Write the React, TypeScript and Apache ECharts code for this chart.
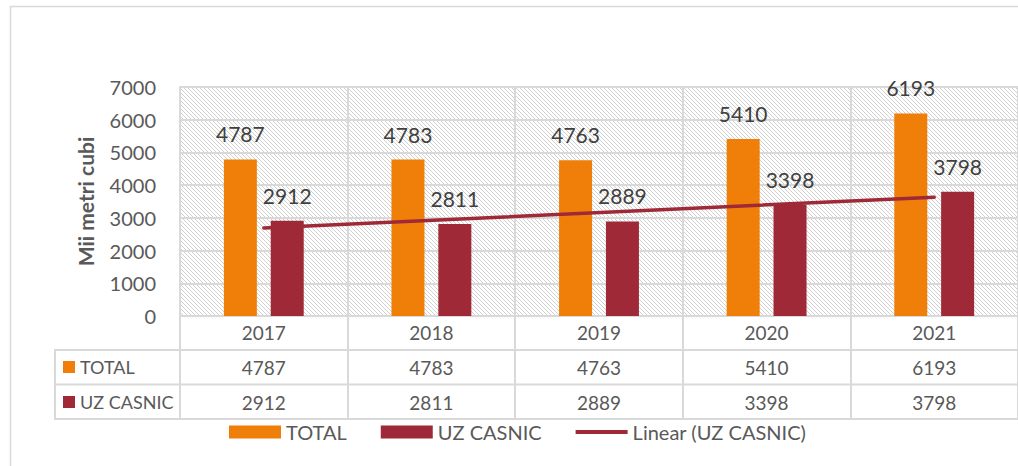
import React, { useEffect, useRef } from "react";
import * as echarts from "echarts";

const years = ["2017", "2018", "2019", "2020", "2021"];
const totalValues = [4787, 4783, 4763, 5410, 6193];
const uzCasnicValues = [2912, 2811, 2889, 3398, 3798];
// Excel linear trendline of UZ CASNIC, read at first and last category
const trendEnds = [2690, 3633];
const yMin = 0;
const yMax = 7000;
const yStep = 1000;

const ORANGE = "#F07F09";
const RED = "#9F2936";
const GRID_LINE = "#d9d9d9";
const TEXT = "#595959";
const FONT = "Lato, 'Open Sans', sans-serif";

const hatch =
  "data:image/svg+xml;utf8," +
  encodeURIComponent(
    "<svg xmlns='http://www.w3.org/2000/svg' width='4' height='4'><path d='M0,0 L4,4 M-1,3 L1,5 M3,-1 L5,1' stroke='#d0d0d0' stroke-width='1'/></svg>"
  );

export default function App() {
  const ref = useRef<HTMLDivElement>(null);
  useEffect(() => {
    if (!ref.current) return;
    const chart = echarts.init(ref.current, null, { renderer: "svg" });
    const trendData = years.map((_, i) =>
      i === 0 ? trendEnds[0] : i === years.length - 1 ? trendEnds[1] : null
    );
    const valueAxisCommon = {
      type: "category",
      gridIndex: 0,
      position: "bottom",
      axisLine: { show: false },
      axisTick: { show: false },
      splitLine: { show: false },
      axisLabel: { fontSize: 19, color: TEXT, fontFamily: FONT, margin: 7 },
    };
    chart.setOption({
      animation: false,
      textStyle: { fontFamily: FONT },
      grid: {
        left: 180,
        top: 87,
        width: 842,
        height: 229,
        show: true,
        borderWidth: 0,
        backgroundColor: {
          image: hatch,
          repeat: "repeat",
          imageWidth: 4,
          imageHeight: 4,
        },
      },
      legend: {
        left: 229,
        top: 422,
        padding: 0,
        itemWidth: 52,
        itemHeight: 13,
        itemGap: 34,
        textStyle: { fontSize: 20, color: TEXT, fontFamily: FONT },
        data: [
          { name: "TOTAL", icon: "rect" },
          { name: "UZ CASNIC", icon: "rect" },
          { name: "Linear (UZ CASNIC)", icon: "path://M0,0 L55,0 L55,4 L0,4 Z" },
        ],
      },
      xAxis: [
        {
          type: "category",
          data: years,
          position: "bottom",
          axisLine: { show: true, lineStyle: { color: GRID_LINE, width: 2 } },
          axisTick: {
            show: true,
            interval: 0,
            length: 103,
            lineStyle: { color: GRID_LINE, width: 2 },
          },
          splitLine: { show: true, interval: 0, lineStyle: { color: GRID_LINE, width: 2 } },
          axisLabel: { fontSize: 19, color: TEXT, fontFamily: FONT, margin: 7 },
        },
        { ...valueAxisCommon, offset: 35, data: totalValues.map(String) },
        { ...valueAxisCommon, offset: 70, data: uzCasnicValues.map(String) },
      ],
      yAxis: {
        type: "value",
        min: yMin,
        max: yMax,
        interval: yStep,
        name: "Mii metri cubi",
        nameLocation: "middle",
        nameRotate: 90,
        nameGap: 84,
        nameTextStyle: { fontSize: 21, fontWeight: "bold", color: TEXT, fontFamily: FONT },
        axisLine: { show: true, lineStyle: { color: GRID_LINE, width: 2 } },
        axisTick: { show: false },
        splitLine: { show: true, lineStyle: { color: GRID_LINE, width: 2 } },
        axisLabel: {
          fontSize: 20,
          color: TEXT,
          fontFamily: FONT,
          margin: 24,
          formatter: (v: number) => String(v),
        },
      },
      series: [
        {
          name: "TOTAL",
          type: "bar",
          data: totalValues,
          barWidth: 33,
          barGap: "42%",
          itemStyle: { color: ORANGE },
          label: {
            show: true,
            position: "top",
            distance: 15,
            fontSize: 21,
            color: "#404040",
            fontFamily: FONT,
          },
        },
        {
          name: "UZ CASNIC",
          type: "bar",
          data: uzCasnicValues,
          barWidth: 33,
          itemStyle: { color: RED },
          label: {
            show: true,
            position: "top",
            distance: 15,
            fontSize: 21,
            color: "#404040",
            fontFamily: FONT,
          },
        },
        {
          name: "Linear (UZ CASNIC)",
          type: "line",
          data: trendData,
          connectNulls: true,
          symbol: "none",
          z: 5,
          itemStyle: { color: RED },
          lineStyle: { color: RED, width: 3.5, cap: "round" },
        },
      ],
      graphic: [
        {
          type: "rect",
          shape: { x: 10.5, y: 6.5, width: 1100, height: 500 },
          style: { fill: "none", stroke: GRID_LINE, lineWidth: 1.5 },
          silent: true,
        },
        {
          type: "line",
          shape: { x1: 55, y1: 350, x2: 1022, y2: 350 },
          style: { stroke: GRID_LINE, lineWidth: 2 },
        },
        {
          type: "line",
          shape: { x1: 55, y1: 384.5, x2: 1022, y2: 384.5 },
          style: { stroke: GRID_LINE, lineWidth: 2 },
        },
        {
          type: "line",
          shape: { x1: 55, y1: 419, x2: 1022, y2: 419 },
          style: { stroke: GRID_LINE, lineWidth: 2 },
        },
        {
          type: "line",
          shape: { x1: 55, y1: 349, x2: 55, y2: 420 },
          style: { stroke: GRID_LINE, lineWidth: 2 },
        },
        {
          type: "rect",
          shape: { x: 63, y: 361, width: 12, height: 12 },
          style: { fill: ORANGE },
        },
        {
          type: "text",
          x: 80,
          y: 367,
          style: {
            text: "TOTAL",
            fontSize: 18,
            fill: TEXT,
            fontFamily: FONT,
            verticalAlign: "middle",
          },
        },
        {
          type: "rect",
          shape: { x: 63, y: 396, width: 12, height: 12 },
          style: { fill: RED },
        },
        {
          type: "text",
          x: 80,
          y: 402,
          style: {
            text: "UZ CASNIC",
            fontSize: 18,
            fill: TEXT,
            fontFamily: FONT,
            verticalAlign: "middle",
          },
        },
      ],
    });
    return () => chart.dispose();
  }, []);
  return (
    <div
      ref={ref}
      style={{ position: "fixed", left: 0, top: 0, width: 1018, height: 466, background: "#fff" }}
    />
  );
}
